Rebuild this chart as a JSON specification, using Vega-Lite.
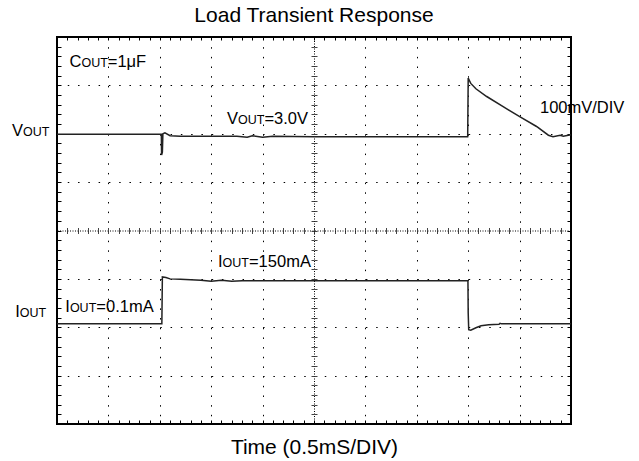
{
  "$schema": "https://vega.github.io/schema/vega-lite/v6.json",
  "width": 514,
  "height": 387,
  "autosize": "none",
  "padding": {"left": 57, "top": 37, "right": 68, "bottom": 37},
  "background": "white",
  "title": {"text": "Load Transient Response", "fontSize": 21, "font": "Liberation Sans", "fontWeight": "normal", "color": "#000", "baseline": "alphabetic", "offset": -6, "anchor": "middle"},
  "config": {"view": {"stroke": "#000", "strokeWidth": 2}},
  "datasets": {
    "traces": [
      {"s": "V", "t": 0, "v": 5.99}, {"s": "V", "t": 2.03, "v": 5.99}, {"s": "V", "t": 2.035, "v": 5.56}, {"s": "V", "t": 2.05, "v": 5.62}, {"s": "V", "t": 2.06, "v": 6.0}, {"s": "V", "t": 2.1, "v": 6.02}, {"s": "V", "t": 2.2, "v": 5.96}, {"s": "V", "t": 2.4, "v": 5.95}, {"s": "V", "t": 3.5, "v": 5.95}, {"s": "V", "t": 3.7, "v": 5.93}, {"s": "V", "t": 3.8, "v": 5.96}, {"s": "V", "t": 4.0, "v": 5.93}, {"s": "V", "t": 4.2, "v": 5.95}, {"s": "V", "t": 5.0, "v": 5.94}, {"s": "V", "t": 7.99, "v": 5.94}, {"s": "V", "t": 8.0, "v": 7.15}, {"s": "V", "t": 8.05, "v": 7.04}, {"s": "V", "t": 8.15, "v": 6.93}, {"s": "V", "t": 8.36, "v": 6.77}, {"s": "V", "t": 8.68, "v": 6.56}, {"s": "V", "t": 9.01, "v": 6.35}, {"s": "V", "t": 9.33, "v": 6.15}, {"s": "V", "t": 9.56, "v": 5.97}, {"s": "V", "t": 9.65, "v": 5.94}, {"s": "V", "t": 9.79, "v": 5.97}, {"s": "V", "t": 9.85, "v": 5.95}, {"s": "V", "t": 10, "v": 5.98},
      {"s": "I", "t": 0, "v": 2.07}, {"s": "I", "t": 2.04, "v": 2.07}, {"s": "I", "t": 2.05, "v": 3.04}, {"s": "I", "t": 2.12, "v": 3.03}, {"s": "I", "t": 2.2, "v": 3.0}, {"s": "I", "t": 2.4, "v": 2.99}, {"s": "I", "t": 2.8, "v": 2.97}, {"s": "I", "t": 3.0, "v": 2.95}, {"s": "I", "t": 3.2, "v": 2.97}, {"s": "I", "t": 3.4, "v": 2.95}, {"s": "I", "t": 3.6, "v": 2.96}, {"s": "I", "t": 7.995, "v": 2.96}, {"s": "I", "t": 8.0, "v": 2.3}, {"s": "I", "t": 8.01, "v": 1.95}, {"s": "I", "t": 8.05, "v": 1.94}, {"s": "I", "t": 8.15, "v": 1.99}, {"s": "I", "t": 8.25, "v": 2.03}, {"s": "I", "t": 8.4, "v": 2.05}, {"s": "I", "t": 8.6, "v": 2.06}, {"s": "I", "t": 8.62, "v": 2.08}, {"s": "I", "t": 8.65, "v": 2.07}, {"s": "I", "t": 10, "v": 2.07}
    ],
    "mainLabels": [
      {"x": -0.875, "y": 5.953, "text": "V"},
      {"x": -0.813, "y": 2.218, "text": "I"},
      {"x": 0.243, "y": 7.38, "text": "C"},
      {"x": 0.988, "y": 7.38, "text": "=1μF"},
      {"x": 3.307, "y": 6.202, "text": "V"},
      {"x": 4.035, "y": 6.202, "text": "=3.0V"},
      {"x": 9.397, "y": 6.435, "text": "100mV/DIV"},
      {"x": 3.132, "y": 3.252, "text": "I"},
      {"x": 3.735, "y": 3.252, "text": "=150mA"},
      {"x": 0.161, "y": 2.309, "text": "I"},
      {"x": 0.765, "y": 2.309, "text": "=0.1mA"}
    ],
    "subLabels": [
      {"x": -0.661, "y": 5.953, "text": "OUT"},
      {"x": -0.724, "y": 2.218, "text": "OUT"},
      {"x": 0.475, "y": 7.38, "text": "OUT"},
      {"x": 3.521, "y": 6.202, "text": "OUT"},
      {"x": 3.222, "y": 3.252, "text": "OUT"},
      {"x": 0.251, "y": 2.309, "text": "OUT"}
    ]
  },
  "data": {"name": "traces"},
  "resolve": {"axis": {"x": "independent", "y": "independent"}},
  "layer": [
    {
      "mark": {"type": "point", "opacity": 0},
      "encoding": {
        "x": {"field": "t", "type": "quantitative", "scale": {"domain": [0, 10], "nice": false, "zero": false},
          "axis": {"orient": "bottom", "values": [1, 2, 3, 4, 6, 7, 8, 9], "grid": true, "gridDash": [1.5, 8.175], "gridColor": "#000", "gridWidth": 1, "labels": false, "ticks": false, "domain": false,
            "title": "Time (0.5mS/DIV)", "titleFontSize": 21, "titleFont": "Liberation Sans", "titleFontWeight": "normal", "titleColor": "#000", "titlePadding": 29, "titleBaseline": "alphabetic"}},
        "y": {"field": "v", "type": "quantitative", "scale": {"domain": [0, 8], "nice": false, "zero": false},
          "axis": {"orient": "left", "values": [1, 2, 3, 5, 6, 7], "grid": true, "gridDash": [1.5, 8.78], "gridColor": "#000", "gridWidth": 1, "labels": false, "ticks": false, "domain": false, "title": null}}
      }
    },
    {
      "mark": {"type": "point", "opacity": 0},
      "encoding": {
        "x": {"field": "t", "type": "quantitative", "scale": {"domain": [0, 10], "nice": false, "zero": false},
          "axis": {"orient": "bottom", "values": [0.2,0.4,0.6,0.8,1,1.2,1.4,1.6,1.8,2,2.2,2.4,2.6,2.8,3,3.2,3.4,3.6,3.8,4,4.2,4.4,4.6,4.8,5,5.2,5.4,5.6,5.8,6,6.2,6.4,6.6,6.8,7,7.2,7.4,7.6,7.8,8,8.2,8.4,8.6,8.8,9,9.2,9.4,9.6,9.8], "grid": false, "labels": false, "ticks": true, "tickSize": -4, "tickColor": "#000", "tickWidth": 1, "domain": false, "title": null}},
        "y": {"field": "v", "type": "quantitative", "scale": {"domain": [0, 8], "nice": false, "zero": false},
          "axis": {"orient": "left", "values": [0.2,0.4,0.6,0.8,1,1.2,1.4,1.6,1.8,2,2.2,2.4,2.6,2.8,3,3.2,3.4,3.6,3.8,4,4.2,4.4,4.6,4.8,5,5.2,5.4,5.6,5.8,6,6.2,6.4,6.6,6.8,7,7.2,7.4,7.6,7.8], "grid": false, "labels": false, "ticks": true, "tickSize": -4, "tickColor": "#000", "tickWidth": 1, "domain": false, "title": null}}
      }
    },
    {
      "mark": {"type": "point", "opacity": 0},
      "encoding": {
        "x": {"field": "t", "type": "quantitative", "scale": {"domain": [0, 10], "nice": false, "zero": false},
          "axis": {"orient": "top", "values": [0.2,0.4,0.6,0.8,1,1.2,1.4,1.6,1.8,2,2.2,2.4,2.6,2.8,3,3.2,3.4,3.6,3.8,4,4.2,4.4,4.6,4.8,5,5.2,5.4,5.6,5.8,6,6.2,6.4,6.6,6.8,7,7.2,7.4,7.6,7.8,8,8.2,8.4,8.6,8.8,9,9.2,9.4,9.6,9.8], "grid": false, "labels": false, "ticks": true, "tickSize": -3, "tickColor": "#000", "tickWidth": 1, "domain": false, "title": null}},
        "y": {"field": "v", "type": "quantitative", "scale": {"domain": [0, 8], "nice": false, "zero": false},
          "axis": {"orient": "right", "values": [0.2,0.4,0.6,0.8,1,1.2,1.4,1.6,1.8,2,2.2,2.4,2.6,2.8,3,3.2,3.4,3.6,3.8,4,4.2,4.4,4.6,4.8,5,5.2,5.4,5.6,5.8,6,6.2,6.4,6.6,6.8,7,7.2,7.4,7.6,7.8], "grid": false, "labels": false, "ticks": true, "tickSize": -4, "tickColor": "#000", "tickWidth": 1, "domain": false, "title": null}}
      }
    },
    {
      "mark": {"type": "point", "opacity": 0},
      "encoding": {
        "x": {"field": "t", "type": "quantitative", "scale": {"domain": [0, 10], "nice": false, "zero": false},
          "axis": {"orient": "bottom", "offset": -193.5, "values": [0.2,0.4,0.6,0.8,1,1.2,1.4,1.6,1.8,2,2.2,2.4,2.6,2.8,3,3.2,3.4,3.6,3.8,4,4.2,4.4,4.6,4.8,5,5.2,5.4,5.6,5.8,6,6.2,6.4,6.6,6.8,7,7.2,7.4,7.6,7.8,8,8.2,8.4,8.6,8.8,9,9.2,9.4,9.6,9.8], "grid": false, "labels": false, "ticks": true, "tickSize": 3, "tickColor": "#444", "tickWidth": 1, "domain": true, "domainDash": [1, 1.5], "domainColor": "#000", "domainWidth": 1, "title": null}},
        "y": {"field": "v", "type": "quantitative", "scale": {"domain": [0, 8], "nice": false, "zero": false},
          "axis": {"orient": "left", "offset": -257, "values": [0.2,0.4,0.6,0.8,1,1.2,1.4,1.6,1.8,2,2.2,2.4,2.6,2.8,3,3.2,3.4,3.6,3.8,4,4.2,4.4,4.6,4.8,5,5.2,5.4,5.6,5.8,6,6.2,6.4,6.6,6.8,7,7.2,7.4,7.6,7.8], "grid": false, "labels": false, "ticks": true, "tickSize": 3, "tickColor": "#444", "tickWidth": 1, "domain": true, "domainDash": [1, 1.5], "domainColor": "#000", "domainWidth": 1, "title": null}}
      }
    },
    {
      "mark": {"type": "point", "opacity": 0},
      "encoding": {
        "x": {"field": "t", "type": "quantitative", "scale": {"domain": [0, 10], "nice": false, "zero": false},
          "axis": {"orient": "top", "offset": -193.5, "values": [0.2,0.4,0.6,0.8,1,1.2,1.4,1.6,1.8,2,2.2,2.4,2.6,2.8,3,3.2,3.4,3.6,3.8,4,4.2,4.4,4.6,4.8,5,5.2,5.4,5.6,5.8,6,6.2,6.4,6.6,6.8,7,7.2,7.4,7.6,7.8,8,8.2,8.4,8.6,8.8,9,9.2,9.4,9.6,9.8], "grid": false, "labels": false, "ticks": true, "tickSize": 3, "tickColor": "#444", "tickWidth": 1, "domain": false, "title": null}},
        "y": {"field": "v", "type": "quantitative", "scale": {"domain": [0, 8], "nice": false, "zero": false},
          "axis": {"orient": "right", "offset": -257, "values": [0.2,0.4,0.6,0.8,1,1.2,1.4,1.6,1.8,2,2.2,2.4,2.6,2.8,3,3.2,3.4,3.6,3.8,4,4.2,4.4,4.6,4.8,5,5.2,5.4,5.6,5.8,6,6.2,6.4,6.6,6.8,7,7.2,7.4,7.6,7.8], "grid": false, "labels": false, "ticks": true, "tickSize": 3, "tickColor": "#444", "tickWidth": 1, "domain": false, "title": null}}
      }
    },
    {
      "mark": {"type": "line", "color": "#222", "strokeWidth": 1.5, "interpolate": "linear"},
      "encoding": {
        "x": {"field": "t", "type": "quantitative", "scale": {"domain": [0, 10], "nice": false, "zero": false}, "axis": null},
        "y": {"field": "v", "type": "quantitative", "scale": {"domain": [0, 8], "nice": false, "zero": false}, "axis": null},
        "detail": {"field": "s", "type": "nominal"}
      }
    },
    {
      "data": {"name": "mainLabels"},
      "mark": {"type": "text", "align": "left", "baseline": "alphabetic", "font": "Liberation Sans", "fontSize": 16.5, "color": "#000"},
      "encoding": {
        "x": {"field": "x", "type": "quantitative", "scale": {"domain": [0, 10], "nice": false, "zero": false}, "axis": null},
        "y": {"field": "y", "type": "quantitative", "scale": {"domain": [0, 8], "nice": false, "zero": false}, "axis": null},
        "text": {"field": "text", "type": "nominal"}
      }
    },
    {
      "data": {"name": "subLabels"},
      "mark": {"type": "text", "align": "left", "baseline": "alphabetic", "font": "Liberation Sans", "fontSize": 12.5, "color": "#000"},
      "encoding": {
        "x": {"field": "x", "type": "quantitative", "scale": {"domain": [0, 10], "nice": false, "zero": false}, "axis": null},
        "y": {"field": "y", "type": "quantitative", "scale": {"domain": [0, 8], "nice": false, "zero": false}, "axis": null},
        "text": {"field": "text", "type": "nominal"}
      }
    }
  ]
}
